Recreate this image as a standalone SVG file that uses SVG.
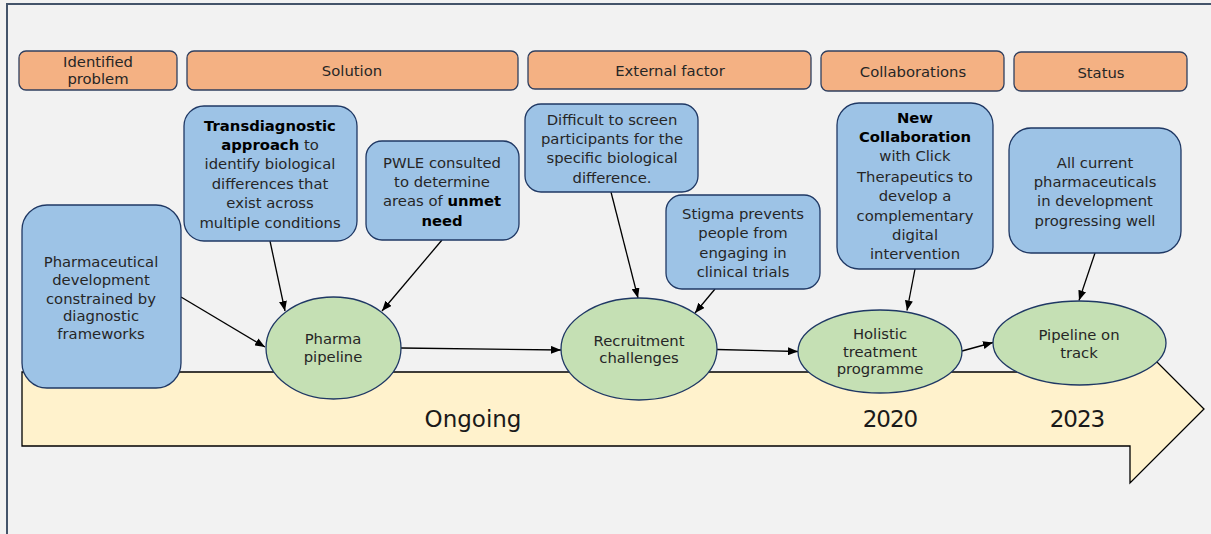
<svg xmlns="http://www.w3.org/2000/svg" width="1211" height="534" viewBox="0 0 1211 534">
<defs>
<marker id="ah" markerUnits="userSpaceOnUse" markerWidth="10" markerHeight="8" refX="10" refY="4" orient="auto">
<path d="M0,0 L10,4 L0,8 z" fill="#000"/>
</marker>
<style>
.hdr{fill:#f4b183;stroke:#2f3f5f;stroke-width:1.3}
.box{fill:#9dc3e6;stroke:#1f3864;stroke-width:1.3}
.ell{fill:#c5e0b4;stroke:#1f3864;stroke-width:1.3}
text{font-family:"DejaVu Sans","Liberation Sans",sans-serif;fill:#262626;text-anchor:middle}
.t{font-size:14.8px}
.b{font-weight:bold;fill:#000}
.big{font-size:23px;fill:#1a1a1a}
.num{font-size:23px;fill:#1a1a1a;letter-spacing:-1px}
.con{stroke:#000;stroke-width:1.3;fill:none;marker-end:url(#ah)}
</style>
</defs>
<rect x="0" y="0" width="1211" height="534" fill="#f2f2f2"/>
<path d="M7,534 L7,4 L1211,4" fill="none" stroke="#44546a" stroke-width="2"/>

<g id="timeline">
<path d="M22,372 L1130,372 L1130,335 L1204,409 L1130,483 L1130,446 L22,446 Z" fill="#fff2cc" stroke="#000" stroke-width="1.3"/>
<text class="big" x="473" y="427">Ongoing</text>
<text class="num" x="890" y="427">2020</text>
<text class="num" x="1077" y="427">2023</text>
</g>

<g id="hdr-problem"><rect class="hdr" x="19" y="51" width="158" height="39" rx="7"/>
<text class="t" x="98" y="67">Identified</text><text class="t" x="98" y="84">problem</text></g>
<g id="hdr-solution"><rect class="hdr" x="187" y="51" width="331" height="39" rx="7"/>
<text class="t" x="352" y="76">Solution</text></g>
<g id="hdr-external"><rect class="hdr" x="528" y="51" width="283" height="38" rx="7"/>
<text class="t" x="670" y="76">External factor</text></g>
<g id="hdr-collab"><rect class="hdr" x="821" y="51" width="183" height="40" rx="7"/>
<text class="t" x="913" y="77">Collaborations</text></g>
<g id="hdr-status"><rect class="hdr" x="1014" y="52" width="173" height="39" rx="7"/>
<text class="t" x="1101" y="78">Status</text></g>

<g id="connectors">
<line class="con" x1="181" y1="297" x2="265" y2="347"/>
<line class="con" x1="270" y1="241" x2="285" y2="311"/>
<line class="con" x1="442" y1="240" x2="382" y2="311"/>
<line class="con" x1="401" y1="348" x2="561" y2="350"/>
<line class="con" x1="611" y1="192" x2="638" y2="298"/>
<line class="con" x1="715" y1="289" x2="695" y2="313"/>
<line class="con" x1="717" y1="349.5" x2="798" y2="351.5"/>
<line class="con" x1="915" y1="269" x2="907" y2="310.5"/>
<line class="con" x1="962" y1="351" x2="993" y2="342.5"/>
<line class="con" x1="1095" y1="253" x2="1079" y2="300.5"/>
</g>

<g id="n-pharmadev"><rect class="box" x="22" y="205" width="159" height="183" rx="25"/>
<text class="t" x="101" y="267">Pharmaceutical</text>
<text class="t" x="101" y="285">development</text>
<text class="t" x="101" y="304">constrained by</text>
<text class="t" x="101" y="321">diagnostic</text>
<text class="t" x="101" y="339">frameworks</text></g>

<g id="n-transdiag"><rect class="box" x="184" y="106" width="173" height="135" rx="20"/>
<text class="t" x="270" y="131"><tspan class="b">Transdiagnostic</tspan></text>
<text class="t" x="270" y="150"><tspan class="b">approach</tspan> to</text>
<text class="t" x="270" y="169">identify biological</text>
<text class="t" x="270" y="189">differences that</text>
<text class="t" x="270" y="208">exist across</text>
<text class="t" x="270" y="228">multiple conditions</text></g>

<g id="n-pwle"><rect class="box" x="366" y="141" width="153" height="99" rx="16"/>
<text class="t" x="442" y="168">PWLE consulted</text>
<text class="t" x="442" y="187">to determine</text>
<text class="t" x="442" y="206">areas of <tspan class="b">unmet</tspan></text>
<text class="t" x="442" y="226"><tspan class="b">need</tspan></text></g>

<g id="n-difficult"><rect class="box" x="525" y="104" width="173" height="88" rx="16"/>
<text class="t" x="612" y="125">Difficult to screen</text>
<text class="t" x="612" y="144">participants for the</text>
<text class="t" x="612" y="163">specific biological</text>
<text class="t" x="612" y="183">difference.</text></g>

<g id="n-stigma"><rect class="box" x="666" y="195" width="154" height="94" rx="16"/>
<text class="t" x="743" y="219">Stigma prevents</text>
<text class="t" x="743" y="238">people from</text>
<text class="t" x="743" y="258">engaging in</text>
<text class="t" x="743" y="277">clinical trials</text></g>

<g id="n-newcollab"><rect class="box" x="837" y="103" width="156" height="166" rx="22"/>
<text class="t" x="915" y="123"><tspan class="b">New</tspan></text>
<text class="t" x="915" y="142"><tspan class="b">Collaboration</tspan></text>
<text class="t" x="915" y="161">with Click</text>
<text class="t" x="915" y="182">Therapeutics to</text>
<text class="t" x="915" y="201">develop a</text>
<text class="t" x="915" y="221">complementary</text>
<text class="t" x="915" y="240">digital</text>
<text class="t" x="915" y="259">intervention</text></g>

<g id="n-allcurrent"><rect class="box" x="1009" y="128" width="172" height="125" rx="22"/>
<text class="t" x="1095" y="168">All current</text>
<text class="t" x="1095" y="187">pharmaceuticals</text>
<text class="t" x="1095" y="206">in development</text>
<text class="t" x="1095" y="226">progressing well</text></g>

<g id="n-pharma"><ellipse class="ell" cx="333.5" cy="348" rx="67.5" ry="51"/>
<text class="t" x="333" y="344">Pharma</text>
<text class="t" x="333" y="362">pipeline</text></g>

<g id="n-recruit"><ellipse class="ell" cx="639" cy="349" rx="78" ry="51"/>
<text class="t" x="639" y="346">Recruitment</text>
<text class="t" x="639" y="363">challenges</text></g>

<g id="n-holistic"><ellipse class="ell" cx="880" cy="351.5" rx="82" ry="41.5"/>
<text class="t" x="880" y="339">Holistic</text>
<text class="t" x="880" y="357">treatment</text>
<text class="t" x="880" y="374">programme</text></g>

<g id="n-ontrack"><ellipse class="ell" cx="1079.5" cy="343" rx="86.5" ry="42"/>
<text class="t" x="1079" y="340">Pipeline on</text>
<text class="t" x="1079" y="358">track</text></g>
</svg>
